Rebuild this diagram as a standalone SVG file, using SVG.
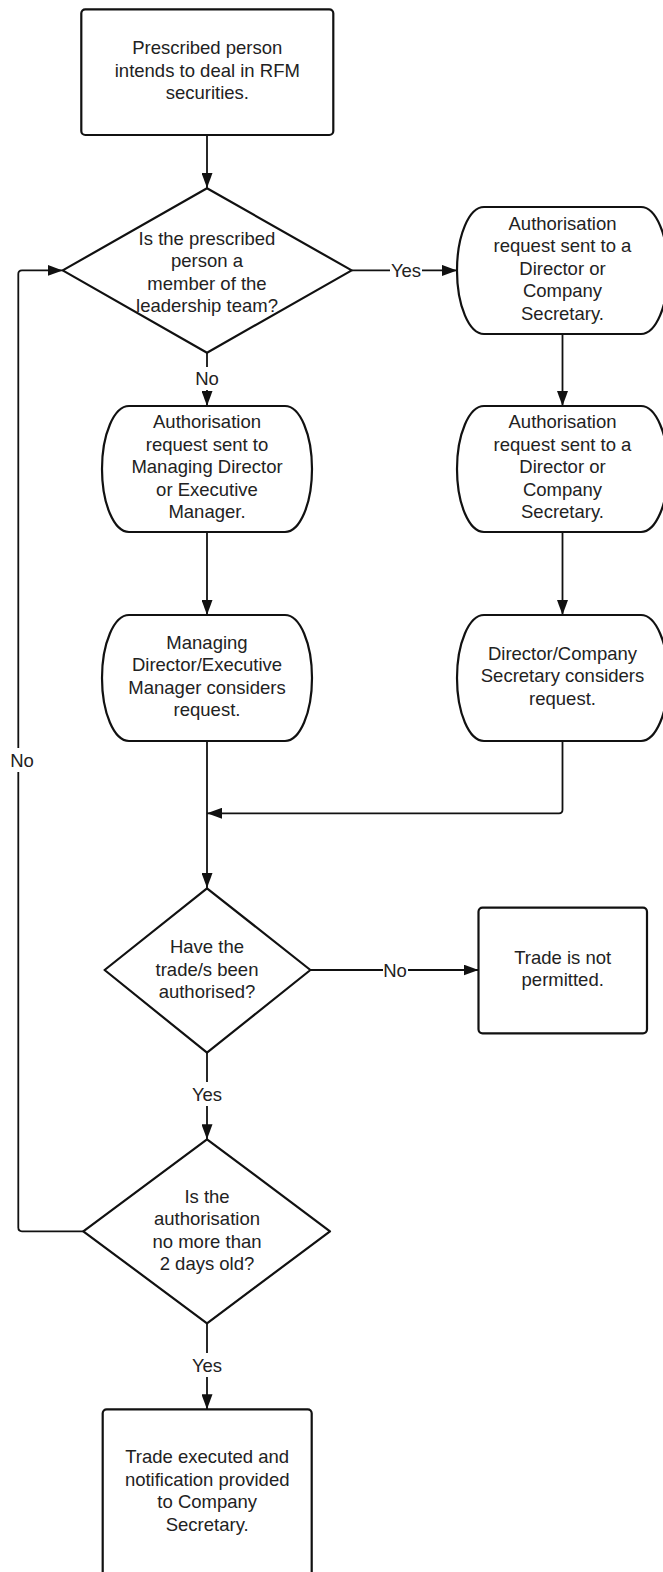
<svg xmlns="http://www.w3.org/2000/svg" width="663" height="1572" viewBox="0 0 663 1572">
<style>
.shape{fill:#fff;stroke:#111;stroke-width:2.2;stroke-linejoin:round}
.conn{fill:none;stroke:#111;stroke-width:1.8}
text{font-family:"Liberation Sans",Arial,sans-serif;font-size:18.5px;fill:#222;text-anchor:middle}
</style>
<defs>
<marker id="ah" markerUnits="userSpaceOnUse" markerWidth="15" markerHeight="11" refX="15" refY="5.5" orient="auto">
<path d="M0,0 L15,5.5 L0,11 Z" fill="#111"/>
</marker>
</defs>
<rect width="663" height="1572" fill="#fff"/>
<g id="connectors">
<path class="conn" d="M207,135 V188" marker-end="url(#ah)"/>
<path class="conn" d="M351.7,270.4 H390"/>
<path class="conn" d="M422,270.4 H457" marker-end="url(#ah)"/>
<text x="406" y="277">Yes</text>
<path class="conn" d="M207,352.7 V367"/>
<path class="conn" d="M207,390 V406" marker-end="url(#ah)"/>
<text x="207" y="385">No</text>
<path class="conn" d="M562.5,334 V406" marker-end="url(#ah)"/>
<path class="conn" d="M207,532 V615" marker-end="url(#ah)"/>
<path class="conn" d="M562.5,532 V615" marker-end="url(#ah)"/>
<path class="conn" d="M207,741 V888" marker-end="url(#ah)"/>
<path class="conn" d="M562.5,741 V809.8 Q562.5,813.3 559,813.3 H207" marker-end="url(#ah)"/>
<path class="conn" d="M310.4,970 H383"/>
<path class="conn" d="M408,970 H478.5" marker-end="url(#ah)"/>
<text x="395" y="976.5">No</text>
<path class="conn" d="M207,1052.7 V1082"/>
<path class="conn" d="M207,1106 V1139.3" marker-end="url(#ah)"/>
<text x="207" y="1100.5">Yes</text>
<path class="conn" d="M83.3,1231.3 H22 Q18.3,1231.3 18.3,1227.6 V772"/>
<path class="conn" d="M18.3,748 V274 Q18.3,270.4 22,270.4 H62.7" marker-end="url(#ah)"/>
<text x="22" y="766.5">No</text>
<path class="conn" d="M207,1323.3 V1353"/>
<path class="conn" d="M207,1377 V1409.3" marker-end="url(#ah)"/>
<text x="207" y="1371.5">Yes</text>
</g>
<g id="start">
<rect class="shape" x="81.3" y="9.3" width="252" height="125.7" rx="4"/>
<text x="207.3" y="54">Prescribed person</text>
<text x="207.3" y="76.5">intends to deal in RFM</text>
<text x="207.3" y="99">securities.</text>
</g>
<g id="d1">
<polygon class="shape" points="207,188.3 351.7,270.4 207,352.7 62.7,270.4"/>
<text x="207" y="244.5">Is the prescribed</text>
<text x="207" y="267">person a</text>
<text x="207" y="289.5">member of the</text>
<text x="207" y="312">leadership team?</text>
</g>
<g id="r1">
<path class="shape" d="M484,207 H641 A27 63.5 0 0 1 641,334 H484 A27 63.5 0 0 1 484,207 Z"/>
<text x="562.5" y="229.5">Authorisation</text>
<text x="562.5" y="252">request sent to a</text>
<text x="562.5" y="274.5">Director or</text>
<text x="562.5" y="297">Company</text>
<text x="562.5" y="319.5">Secretary.</text>
</g>
<g id="l1">
<path class="shape" d="M129,406 H285 A27 63 0 0 1 285,532 H129 A27 63 0 0 1 129,406 Z"/>
<text x="207" y="428">Authorisation</text>
<text x="207" y="450.5">request sent to</text>
<text x="207" y="473">Managing Director</text>
<text x="207" y="495.5">or Executive</text>
<text x="207" y="518">Manager.</text>
</g>
<g id="r2">
<path class="shape" d="M484,406 H641 A27 63 0 0 1 641,532 H484 A27 63 0 0 1 484,406 Z"/>
<text x="562.5" y="428">Authorisation</text>
<text x="562.5" y="450.5">request sent to a</text>
<text x="562.5" y="473">Director or</text>
<text x="562.5" y="495.5">Company</text>
<text x="562.5" y="518">Secretary.</text>
</g>
<g id="l2">
<path class="shape" d="M129,615 H285 A27 63 0 0 1 285,741 H129 A27 63 0 0 1 129,615 Z"/>
<text x="207" y="648.5">Managing</text>
<text x="207" y="671">Director/Executive</text>
<text x="207" y="693.5">Manager considers</text>
<text x="207" y="716">request.</text>
</g>
<g id="r3">
<path class="shape" d="M484,615 H641 A27 63 0 0 1 641,741 H484 A27 63 0 0 1 484,615 Z"/>
<text x="562.5" y="659.5">Director/Company</text>
<text x="562.5" y="682">Secretary considers</text>
<text x="562.5" y="704.5">request.</text>
</g>
<g id="d2">
<polygon class="shape" points="207,888.3 310.4,970 207,1052.7 104.6,970"/>
<text x="207" y="953">Have the</text>
<text x="207" y="975.5">trade/s been</text>
<text x="207" y="998">authorised?</text>
</g>
<g id="notpermitted">
<rect class="shape" x="478.5" y="907.7" width="168.5" height="125.6" rx="4"/>
<text x="562.7" y="963.5">Trade is not</text>
<text x="562.7" y="986">permitted.</text>
</g>
<g id="d3">
<polygon class="shape" points="207,1139.3 330,1231.3 207,1323.3 83.3,1231.3"/>
<text x="207" y="1202.5">Is the</text>
<text x="207" y="1225">authorisation</text>
<text x="207" y="1247.5">no more than</text>
<text x="207" y="1270">2 days old?</text>
</g>
<g id="end">
<rect class="shape" x="102.7" y="1409.3" width="209" height="200" rx="4"/>
<text x="207.2" y="1463">Trade executed and</text>
<text x="207.2" y="1485.5">notification provided</text>
<text x="207.2" y="1508">to Company</text>
<text x="207.2" y="1530.5">Secretary.</text>
</g>
</svg>
